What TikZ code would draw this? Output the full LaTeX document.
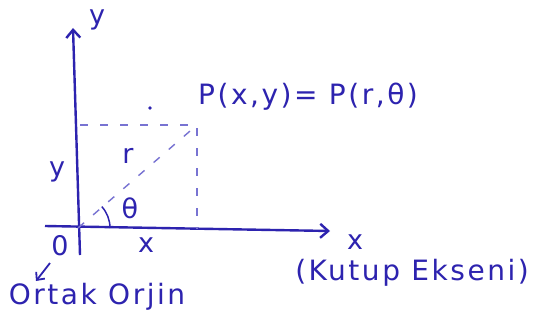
\documentclass[tikz,border=0pt]{standalone}
\usepackage{fontspec}
\setmainfont{DejaVu Sans}
\usetikzlibrary{arrows.meta,calc}
\definecolor{ink}{RGB}{45,35,175}
\definecolor{inkl}{RGB}{120,115,210}
\begin{document}
\begin{tikzpicture}[x=1pt,y=-1pt,
  axis/.style={draw=ink,line width=2.4pt,-{Straight Barb[length=8pt,width=14pt]}},
  guide/.style={draw=inkl,line width=1.4pt,dash pattern=on 8pt off 12pt},
  lbl/.style={text=ink,font=\fontsize{27}{29}\selectfont,inner sep=0pt},
  wide/.style={text=ink,font=\fontsize{28}{30}\selectfont\addfontfeature{LetterSpace=9},inner sep=0pt}]
\useasboundingbox (0,0) rectangle (540,326);
\fill[white] (0,0) rectangle (540,326);
\coordinate (O) at (78,228);
\coordinate (ybot) at (80,255);
\coordinate (ytop) at (73,28);
\coordinate (xleft) at (45,226);
\coordinate (xright) at (330,231);
\coordinate (P) at (197,125);
\coordinate (Py) at (80,125);
\coordinate (Px) at (197,229);
\draw[axis] (ybot) -- (ytop);
\draw[axis] (xleft) -- (xright);
\draw[guide] (Py) -- (P) -- (Px);
\draw[guide] (O) -- (P);
\draw[ink,line width=1.5pt] ($(O)+(32,0)$) arc[start angle=0,end angle=-42,radius=32];
\fill[ink] (150,108) circle (1.8pt);
\node[lbl] (ylab) at (97,20) {y};
\node[wide,anchor=west] (Plab) at (198,97) {P(x,y)= P(r,θ)};
\node[lbl] (rlab) at (128,156) {r};
\node[lbl] (yside) at (57,172) {y};
\node[lbl] (th) at (130,208) {θ};
\node[lbl] (zero) at (60,246) {0};
\node[lbl] (xlab) at (146,245) {x};
\node[lbl] (Xlab) at (355,242) {x};
\node[wide] (kutup) at (412,273) {(Kutup Ekseni)};
\node[wide] (ortak) at (97,297) {Ortak Orjin};
\coordinate (a1) at (50,263);
\coordinate (a2) at (36,281);
\draw[ink,line width=1.8pt,-{Straight Barb[length=6pt,width=11pt]}] (a1) -- (a2);
\end{tikzpicture}
\end{document}
